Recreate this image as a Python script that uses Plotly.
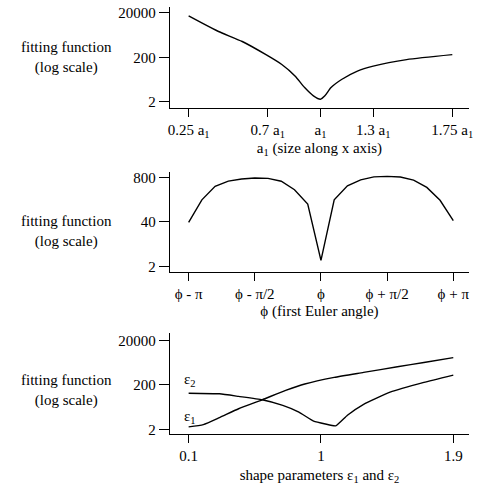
import numpy as np
import plotly.graph_objects as go

# ---------------- data ----------------
a1_x = [0.25, 0.33, 0.42, 0.555, 0.69, 0.78, 0.855, 0.91, 0.96, 1.0, 1.025, 1.06, 1.12, 1.21, 1.30, 1.49, 1.75]
a1_y = [14700, 6700, 2900, 1030, 263, 95, 29, 8.7, 3.7, 2.6, 3.7, 8.7, 20, 48, 80, 158, 263]
a1_ticks = [0.25, 0.7, 1.0, 1.3, 1.75]
a1_ticktext = ["0.25 a<sub>1</sub>", "0.7 a<sub>1</sub>", "a<sub>1</sub>", "1.3 a<sub>1</sub>", "1.75 a<sub>1</sub>"]

phi_steps = [-10, -9, -8, -7, -6, -5, -4, -3, -2, -1, 0, 1, 2, 3, 4, 5, 6, 7, 8, 9, 10]  # multiples of pi/10
phi_y = [39, 177, 440, 625, 720, 770, 755, 620, 350, 133, 3.0, 177, 457, 682, 832, 860, 830, 668, 411, 172, 44]
phi_ticks = [-np.pi, -np.pi / 2, 0, np.pi / 2, np.pi]
phi_ticktext = ["ϕ - π", "ϕ - π/2", "ϕ", "ϕ + π/2", "ϕ + π"]

eps1_x = [0.1, 0.2, 0.31, 0.44, 0.6, 0.76, 0.89, 1.09, 1.29, 1.52, 1.7, 1.9]
eps1_y = [2.6, 3.3, 6.8, 17, 43, 113, 221, 440, 734, 1318, 2040, 3400]
eps2_x = [0.1, 0.31, 0.44, 0.6, 0.74, 0.85, 0.95, 1.03, 1.1, 1.18, 1.29, 1.47, 1.7, 1.9]
eps2_y = [85, 80, 61, 43, 24, 12, 4.7, 3.5, 2.9, 8.7, 27, 95, 263, 557]
eps_ticks = [0.1, 1, 1.9]
eps_ticktext = ["0.1", "1", "1.9"]

y1_ticks = [2, 200, 20000]
y2_ticks = [2, 40, 800]
y3_ticks = [2, 200, 20000]

# ---------------- figure ----------------
FONT = "Liberation Serif, Times New Roman, serif"
FS = 15
W, H = 481, 488
phi_x = [s * np.pi / 10 for s in phi_steps]

fig = go.Figure()
line = dict(color="black", width=1.4)
fig.add_trace(go.Scatter(x=a1_x, y=a1_y, mode="lines", line=dict(color="black", width=1.4, shape="spline", smoothing=0.6),
                         xaxis="x", yaxis="y", showlegend=False))
fig.add_trace(go.Scatter(x=phi_x, y=phi_y, mode="lines", line=line, xaxis="x2", yaxis="y2", showlegend=False))
fig.add_trace(go.Scatter(x=eps1_x, y=eps1_y, mode="lines", line=dict(color="black", width=1.4, shape="spline", smoothing=0.5),
                         xaxis="x3", yaxis="y3", showlegend=False))
fig.add_trace(go.Scatter(x=eps2_x, y=eps2_y, mode="lines", line=dict(color="black", width=1.4, shape="spline", smoothing=0.4),
                         xaxis="x3", yaxis="y3", showlegend=False))

xdom = [170 / W, 473 / W]


def ydom(top, bottom):
    return [1 - bottom / H, 1 - top / H]


common_x = dict(showline=True, linecolor="black", linewidth=1.2, ticks="outside", ticklen=8, tickwidth=1.2,
                tickcolor="black", showgrid=False, zeroline=False, domain=xdom,
                tickfont=dict(family=FONT, size=FS, color="black"),
                title_font=dict(family=FONT, size=FS, color="black"))
common_y = dict(type="log", showline=True, linecolor="black", linewidth=1.2, ticks="outside", ticklen=10,
                tickwidth=1.2, tickcolor="black", showgrid=False, zeroline=False,
                tickfont=dict(family=FONT, size=FS, color="black"))

fig.update_layout(
    width=W, height=H, margin=dict(l=0, r=0, t=0, b=0),
    paper_bgcolor="white", plot_bgcolor="white",
    xaxis=dict(common_x, anchor="y", range=[0.1433, 1.8455], tickvals=a1_ticks, ticktext=a1_ticktext,
               title=dict(text="a<sub>1</sub> (size along x axis)", standoff=2)),
    yaxis=dict(common_y, anchor="x", domain=ydom(5, 107), range=[0.034, 4.568], tickvals=y1_ticks,
               ticktext=[str(v) for v in y1_ticks]),
    xaxis2=dict(common_x, anchor="y2", range=[-3.587, 3.517], tickvals=phi_ticks, ticktext=phi_ticktext,
                title=dict(text="ϕ (first Euler angle)", standoff=4)),
    yaxis2=dict(common_y, anchor="x2", domain=ydom(171.7, 273.3), range=[0.139, 3.076], tickvals=y2_ticks,
                ticktext=[str(v) for v in y2_ticks]),
    xaxis3=dict(common_x, anchor="y3", range=[-0.0276, 2.0075], tickvals=eps_ticks, ticktext=eps_ticktext,
                title=dict(text="shape parameters ε<sub>1</sub> and ε<sub>2</sub>", standoff=6)),
    yaxis3=dict(common_y, anchor="x3", domain=ydom(335, 437.3), range=[0.097, 4.644], tickvals=y3_ticks,
                ticktext=[str(v) for v in y3_ticks]),
)

for cy in [56, 232, 393]:
    fig.add_annotation(x=65 / W, y=1 - cy / H, xref="paper", yref="paper", showarrow=False,
                       xanchor="center", yanchor="middle",
                       text="fitting function<br>(log scale)", align="center",
                       font=dict(family=FONT, size=FS, color="black"))

fig.add_annotation(x=190 / W, y=1 - 383 / H, xref="paper", yref="paper", showarrow=False,
                   xanchor="center", yanchor="middle",
                   text="ε<sub>2</sub>", font=dict(family=FONT, size=FS, color="black"))
fig.add_annotation(x=190 / W, y=1 - 420 / H, xref="paper", yref="paper", showarrow=False,
                   xanchor="center", yanchor="middle",
                   text="ε<sub>1</sub>", font=dict(family=FONT, size=FS, color="black"))

fig.write_html("out.html", config={"displayModeBar": False},
               post_script="document.body.style.margin='0';document.body.style.overflow='hidden';")
